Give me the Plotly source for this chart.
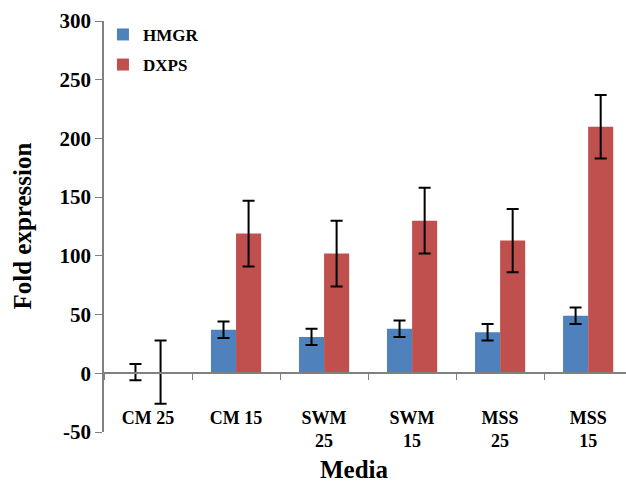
import plotly.graph_objects as go

categories = ["CM 25", "CM 15", "SWM<br>25", "SWM<br>15", "MSS<br>25", "MSS<br>15"]
hmgr = [1, 37, 31, 38, 35, 49]
hmgr_err = [7, 7, 7, 7, 7, 7]
dxps = [1, 119, 102, 130, 113, 210]
dxps_err = [27, 28, 28, 28, 27, 27]
y_ticks = [-50, 0, 50, 100, 150, 200, 250, 300]
y_tick_labels = [str(v) for v in y_ticks]

serif = "'Liberation Serif', 'Times New Roman', serif"

fig = go.Figure()
fig.add_trace(go.Bar(
    name="HMGR", x=categories, y=hmgr, marker=dict(color="#4F81BD", line=dict(width=0)),
    error_y=dict(type="data", array=hmgr_err, color="black", thickness=2, width=6),
    legendgroup="a"))
fig.add_trace(go.Bar(
    name="DXPS", x=categories, y=dxps, marker=dict(color="#C0504D", line=dict(width=0)),
    error_y=dict(type="data", array=dxps_err, color="black", thickness=2, width=6),
    legendgroup="b"))

fig.update_layout(
    width=626, height=482,
    margin=dict(l=104, r=0, t=21, b=50),
    paper_bgcolor="white", plot_bgcolor="white",
    barmode="group", bargap=0.43, bargroupgap=0,
    font=dict(family=serif, color="black"),
    showlegend=True,
    legend=dict(x=-0.002, y=1.01, xanchor="left", yanchor="top",
                font=dict(family=serif, size=17, color="black", weight="bold"),
                bgcolor="rgba(0,0,0,0)", tracegroupgap=5, traceorder="grouped"),
    xaxis=dict(type="category", range=[-0.5, 5.43], anchor="free", position=50/350,
               showline=True, linecolor="#808080", linewidth=1.5,
               ticks="outside", tickson="boundaries", ticklen=6, tickcolor="#808080",
               ticklabelstandoff=28,
               tickfont=dict(family=serif, size=18, color="black", weight="bold"),
               showgrid=False, zeroline=False),
    yaxis=dict(range=[-50, 300], tickvals=y_ticks, ticktext=y_tick_labels,
               showline=True, linecolor="#808080",
               linewidth=1.5, ticks="outside", ticklen=7, tickcolor="#808080",
               tickfont=dict(family=serif, size=21, color="black", weight="bold"),
               showgrid=False, zeroline=True, zerolinecolor="#808080", zerolinewidth=1.5),
)

fig.add_annotation(text="<b>Fold expression</b>", xref="paper", yref="paper",
                   x=0, y=0.5, xshift=-82, textangle=-90, showarrow=False,
                   xanchor="center", yanchor="middle",
                   font=dict(family=serif, size=25, color="black"))
fig.add_annotation(text="<b>Media</b>", xref="paper", yref="paper",
                   x=0.48, y=0, yshift=-37, showarrow=False,
                   xanchor="center", yanchor="middle",
                   font=dict(family=serif, size=25, color="black"))

fig.write_html("out.html")
